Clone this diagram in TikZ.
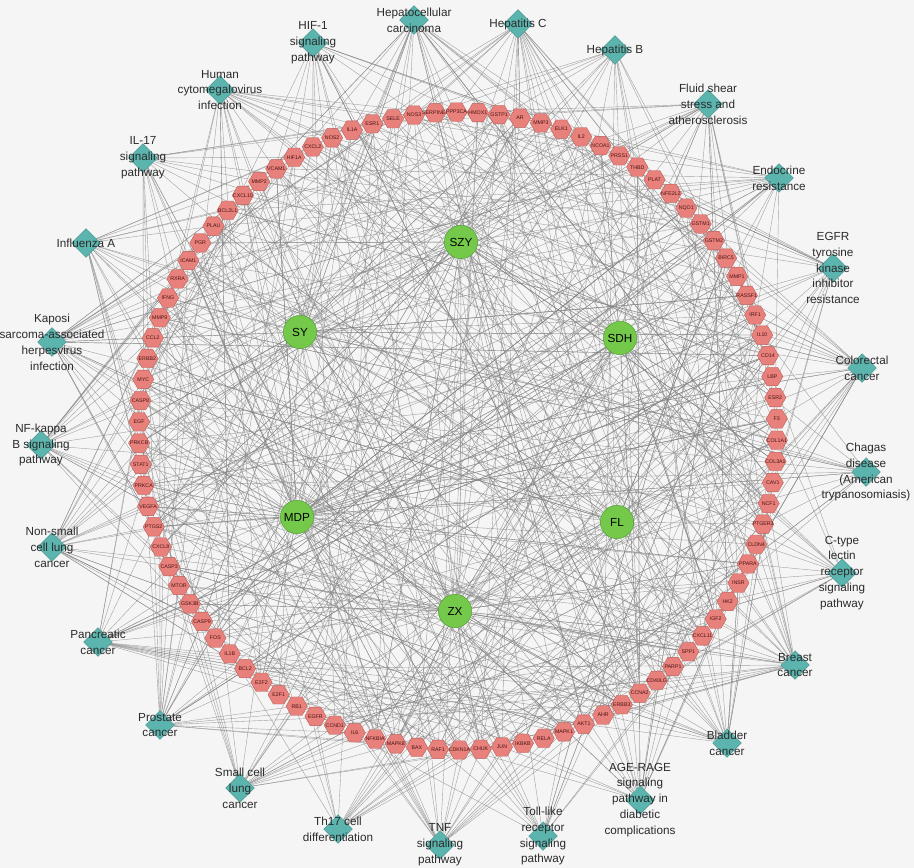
\documentclass[tikz,border=0pt]{standalone}
\usepackage{fontspec}
\setmainfont{Liberation Sans}
\usetikzlibrary{shapes.geometric}

\definecolor{pagebg}{HTML}{F5F5F5}
\definecolor{genefill}{HTML}{E8817C}
\definecolor{genedraw}{HTML}{B85C58}
\definecolor{genetext}{HTML}{4A1414}
\definecolor{pathfill}{HTML}{5CB4AE}
\definecolor{pathdraw}{HTML}{3F8C87}
\definecolor{herbfill}{HTML}{74C94A}
\definecolor{herbdraw}{HTML}{4F9A33}
\definecolor{edgegray}{HTML}{868686}
\definecolor{labeltext}{HTML}{2B2B2B}

\pgfdeclarelayer{bg}
\pgfdeclarelayer{edges}
\pgfsetlayers{bg,edges,main}

\tikzset{
  gene/.style={regular polygon, regular polygon sides=6, minimum size=0.64cm,
    inner sep=0pt, fill=genefill, draw=genedraw, line width=0.3pt,
    font=\fontsize{4.5}{5}\selectfont, text=genetext},
  pathway/.style={diamond, minimum width=0.86cm, minimum height=0.86cm,
    inner sep=0pt, fill=pathfill, draw=pathdraw, line width=0.3pt},
  pathlabel/.style={align=center, font=\fontsize{10}{13.6}\selectfont,
    text=labeltext, inner sep=0pt},
  herb/.style={circle, minimum size=1.0cm, inner sep=0pt, fill=herbfill,
    draw=herbdraw, line width=0.4pt, font=\fontsize{10}{12}\selectfont},
  edge/.style={draw=edgegray, line width=0.35pt, opacity=0.75}
}

\begin{document}
\begin{tikzpicture}[x=0.03cm, y=-0.03cm]
  \begin{pgfonlayer}{bg}
    \fill[pagebg] (0,0) rectangle (914,868); % page
  \end{pgfonlayer}
  \useasboundingbox (0,0) rectangle (914,868);

  % Target genes on the ring (clockwise from HIF1A)
  \foreach \name [count=\i] in {HIF1A,CXCL2,NOS2,IL1A,ESR1,SELE,NOS3,SERPINE1,
      PPP3CA,HMOX1,GSTP1,AR,MMP3,ELK1,IL2,NCOA1,PRSS1,THBD,PLAT,NFE2L2,NQO1,
      GSTM1,GSTM2,BIRC5,MMP1,RASSF1,IRF1,IL10,CD14,LBP,ESR2,F3,COL1A1,COL3A1,
      CAV1,NCF1,PTGER3,CLDN4,PPARA,INSR,HK2,IGF2,CXCL11,SPP1,PARP1,CD40LG,
      CCNA2,ERBB3,AHR,AKT1,MAPK1,RELA,IKBKB,JUN,CHUK,CDKN1A,RAF1,BAX,MAPK8,
      NFKBIA,IL6,CCND1,EGFR,RB1,E2F1,E2F2,BCL2,IL1B,FOS,CASP9,GSK3B,MTOR,CASP3,
      CXCL8,PTGS2,VEGFA,PRKCA,STAT1,PRKCB,EGF,CASP8,MYC,ERBB2,CCL2,MMP9,IFNG,
      RXRA,ICAM1,PGR,PLAU,BCL2L1,CXCL10,MMP2,VCAM1} {
    \pgfmathsetmacro\ang{120.9-(\i-1)*3.8298}
    \node[gene] (g\i) at ({458+319*cos(\ang)},{431-319*sin(\ang)})
      {\makebox[0pt]{\name}};
  }

  % Herbs
  \node[herb] (szy) at (461,242) {SZY};
  \node[herb] (sy)  at (300,332) {SY};
  \node[herb] (sdh) at (620,338) {SDH};
  \node[herb] (mdp) at (297,517) {MDP};
  \node[herb] (fl)  at (617,522) {FL};
  \node[herb] (zx)  at (455,611) {ZX};

  % Pathways (diamond, label on top)
  \foreach \px/\py/\txt [count=\i] in {
      220/90/{Human\\cytomegalovirus\\infection},
      313/43/{HIF-1\\signaling\\pathway},
      414/20/{Hepatocellular\\carcinoma},
      518/24/{Hepatitis C},
      615/50/{Hepatitis B},
      708/104/{Fluid shear\\stress and\\atherosclerosis},
      779/178/{Endocrine\\resistance},
      833/268/{EGFR\\tyrosine\\kinase\\inhibitor\\resistance},
      862/368/{Colorectal\\cancer},
      866/472/{Chagas\\disease\\(American\\trypanosomiasis)},
      842/573/{C-type\\lectin\\receptor\\signaling\\pathway},
      795/665/{Breast\\cancer},
      727/743/{Bladder\\cancer},
      640/800/{AGE-RAGE\\signaling\\pathway in\\diabetic\\complications},
      543/836/{Toll-like\\receptor\\signaling\\pathway},
      440/845/{TNF\\signaling\\pathway},
      338/829/{Th17 cell\\differentiation},
      240/788/{Small cell\\lung\\cancer},
      160/725/{Prostate\\cancer},
      98/642/{Pancreatic\\cancer},
      52/547/{Non-small\\cell lung\\cancer},
      41/445/{NF-kappa\\B signaling\\pathway},
      52/342/{Kaposi\\sarcoma-associated\\herpesvirus\\infection},
      86/243/{Influenza A},
      143/158/{IL-17\\signaling\\pathway}} {
    \node[pathway] (p\i) at (\px,\py) {};
    \node[pathlabel] (t\i) at (\px,\py) {\txt};
  }

  % Connectors
  \pgfmathsetseed{2024}
  \begin{pgfonlayer}{edges}
    \foreach \h/\n in {szy/44,sy/36,sdh/36,mdp/70,fl/34,zx/46} {
      \foreach \k in {1,...,\n} {
        \pgfmathrandominteger{\j}{1}{94}
        \draw[edge] (\h) -- (g\j);
      }
    }
    \foreach \p/\n in {1/22,2/18,3/26,4/24,5/16,6/22,7/20,8/18,9/24,10/16,
        11/16,12/26,13/22,14/22,15/16,16/20,17/16,18/20,19/26,20/24,21/24,
        22/20,23/28,24/20,25/18} {
      \foreach \k in {1,...,\n} {
        \pgfmathrandominteger{\j}{1}{94}
        \draw[edge] (p\p) -- (g\j);
      }
    }
  \end{pgfonlayer}
\end{tikzpicture}
\end{document}
